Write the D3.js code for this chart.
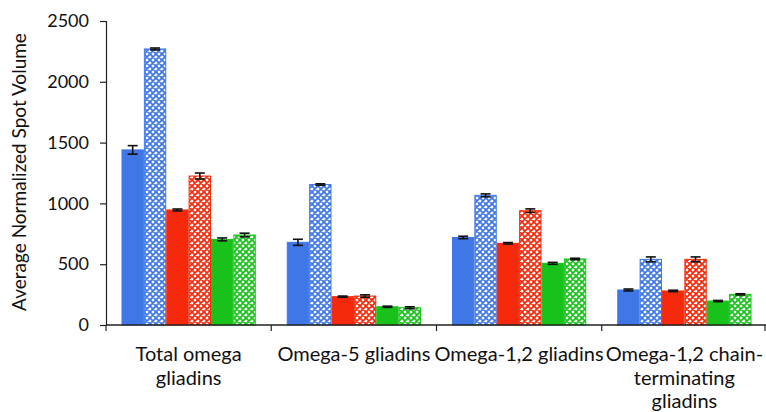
<!DOCTYPE html>
<html><head><meta charset="utf-8">
<script src="https://cdn.jsdelivr.net/npm/d3@7"></script>
<style>body{margin:0;background:#fff}svg{display:block}</style>
</head><body>
<svg id="c" width="766" height="412"></svg>
<script>
const categories = ["Total omega gliadins","Omega-5 gliadins","Omega-1,2 gliadins","Omega-1,2 chain-terminating gliadins"];
const categoryLines = [["Total omega","gliadins"],["Omega-5 gliadins"],["Omega-1,2 gliadins"],["Omega-1,2 chain-","terminating","gliadins"]];
const seriesNames = ["S1","S1 hatched","S2","S2 hatched","S3","S3 hatched"];
const blueSolid   = [1440, 680, 720, 288];
const blueHatch   = [2270, 1155, 1066, 540];
const redSolid    = [946, 233, 672, 280];
const redHatch    = [1225, 238, 940, 540];
const greenSolid  = [704, 150, 507, 197];
const greenHatch  = [740, 142, 543, 252];
const blueSolidErr  = [35, 25, 10, 8];
const blueHatchErr  = [8, 6, 12, 20];
const redSolidErr   = [8, 5, 6, 6];
const redHatchErr   = [25, 10, 15, 20];
const greenSolidErr = [12, 5, 8, 5];
const greenHatchErr = [15, 8, 6, 5];
const yTicks = [0, 500, 1000, 1500, 2000, 2500];

const values = [blueSolid, blueHatch, redSolid, redHatch, greenSolid, greenHatch];
const errors = [blueSolidErr, blueHatchErr, redSolidErr, redHatchErr, greenSolidErr, greenHatchErr];
const colors = ["#3f78e6","#3f78e6","#f52a0c","#f52a0c","#18c21a","#18c21a"];
const hatched = [false,true,false,true,false,true];
const FONT = "Lato, 'Open Sans', sans-serif";

const svg = d3.select("#c");
const m = {l:106, r:767, t:21, b:325};
const x0 = d3.scaleBand().domain(categories).range([m.l, m.r]).paddingInner(0).paddingOuter(0);
const x1 = d3.scaleBand().domain(seriesNames).range([15.5, x0.bandwidth()-15.5]).padding(0);
const y = d3.scaleLinear().domain([0, 2500]).range([m.b, m.t]);

const defs = svg.append("defs");
[0,1,2].forEach(i=>{
  const c = colors[i*2];
  const p = defs.append("pattern").attr("id","h"+i).attr("patternUnits","userSpaceOnUse")
    .attr("width",6).attr("height",6);
  p.append("rect").attr("width",6).attr("height",6).attr("fill","#fff");
  p.append("path").attr("d","M0,0L6,6M6,0L0,6M-1,5L1,7M5,-1L7,1M-1,1L1,-1M5,7L7,5")
    .attr("stroke",c).attr("stroke-width",1.8);
});

const g = svg.append("g");
categories.forEach((cat, ci) => {
  values.forEach((vals, si) => {
    const bx = x0(cat) + x1(seriesNames[si]);
    const bw = x1.bandwidth();
    const v = vals[ci];
    g.append("rect").attr("x", bx+0.5).attr("y", y(v)).attr("width", bw-1).attr("height", y(0)-y(v))
      .attr("fill", hatched[si] ? "url(#h"+(si>>1)+")" : colors[si])
      .attr("stroke", colors[si]).attr("stroke-width", 1);
  });
});
categories.forEach((cat, ci) => {
  values.forEach((vals, si) => {
    const cx = x0(cat) + x1(seriesNames[si]) + x1.bandwidth()/2;
    const v = vals[ci], e = errors[si][ci];
    const eg = g.append("g").attr("stroke","#111").attr("stroke-width",1.6);
    eg.append("line").attr("x1",cx).attr("x2",cx).attr("y1",y(v+e)).attr("y2",y(v-e));
    eg.append("line").attr("x1",cx-5).attr("x2",cx+5).attr("y1",y(v+e)).attr("y2",y(v+e));
    eg.append("line").attr("x1",cx-5).attr("x2",cx+5).attr("y1",y(v-e)).attr("y2",y(v-e));
  });
});

const ya = svg.append("g").attr("transform",`translate(${m.l},0)`)
  .call(d3.axisLeft(y).tickValues(yTicks).tickSize(6).tickPadding(11).tickFormat(d3.format("d")));
ya.select(".domain").attr("stroke","#222").attr("stroke-width",1.2);
ya.selectAll(".tick line").attr("stroke","#222").attr("stroke-width",1.2);
ya.selectAll("text").attr("font-family",FONT).attr("font-size",18).attr("fill","#111");

const xa = svg.append("g").attr("transform",`translate(0,${m.b})`);
xa.append("line").attr("x1",m.l).attr("x2",m.r).attr("stroke","#222").attr("stroke-width",1.4);
const bounds = categories.map(c=>x0(c)).concat([x0(categories[categories.length-1])+x0.bandwidth()]);
xa.selectAll(".tk").data(bounds).join("line").attr("x1",d=>Math.min(d,765)).attr("x2",d=>Math.min(d,765))
  .attr("y1",0).attr("y2",6).attr("stroke","#222").attr("stroke-width",1.2);
categories.forEach((cat, ci) => {
  const t = xa.append("text").attr("text-anchor","middle")
    .attr("font-family",FONT).attr("font-size",20).attr("fill","#111");
  categoryLines[ci].forEach((ln, li) => {
    t.append("tspan").attr("x", x0(cat)+x0.bandwidth()/2).attr("y", 36 + li*23.5).text(ln);
  });
});

svg.append("text").attr("transform","translate(26,172) rotate(-90)").attr("text-anchor","middle")
  .attr("font-family",FONT).attr("font-size",19).attr("fill","#111")
  .text("Average Normalized Spot Volume");
</script>
</body></html>
